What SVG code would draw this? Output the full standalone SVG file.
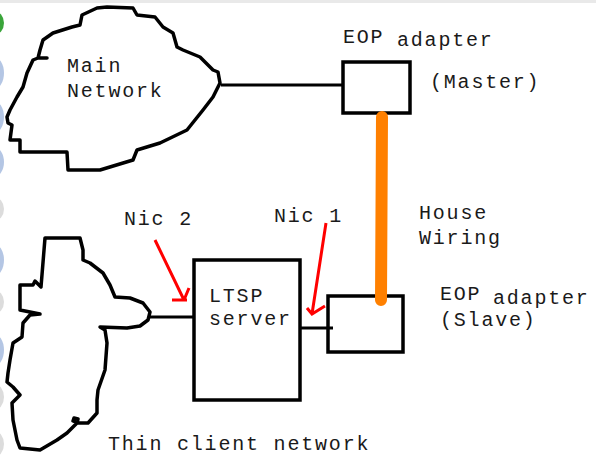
<svg xmlns="http://www.w3.org/2000/svg" width="596" height="465" viewBox="0 0 596 465">
<style>
.cloud{fill:none;stroke:#000;stroke-width:3.5;stroke-linejoin:round;stroke-linecap:round}
.box{fill:#fff;stroke:#000;stroke-width:3.5}
.wire{fill:none;stroke:#000;stroke-width:3}
.red{fill:none;stroke:#ff0000;stroke-width:3;stroke-linecap:butt}
.t{font-family:"Liberation Mono","Courier New",monospace;font-size:20px;letter-spacing:1.8px;fill:#1a1a1a}
</style>
<rect x="0" y="0" width="596" height="465" fill="#fff"/>
<rect x="0" y="0" width="596" height="3" fill="#e9e9e9"/>
<g id="edge-marks">
<ellipse cx="-6" cy="23" rx="10" ry="12" fill="#3aa53a"/>
<ellipse cx="-6" cy="73" rx="10" ry="16" fill="#b4c6e4"/>
<ellipse cx="-6" cy="117" rx="10" ry="16" fill="#b4c6e4"/>
<ellipse cx="-6" cy="162" rx="10" ry="15" fill="#b4c6e4"/>
<ellipse cx="-6" cy="209" rx="10" ry="12" fill="#dcdcdc"/>
<ellipse cx="-6" cy="260" rx="10" ry="16" fill="#b4c6e4"/>
<ellipse cx="-6" cy="302" rx="10" ry="12" fill="#dcdcdc"/>
<ellipse cx="-6" cy="350" rx="10" ry="16" fill="#b4c6e4"/>
<ellipse cx="-6" cy="397" rx="10" ry="13" fill="#dcdcdc"/>
<ellipse cx="-6" cy="444" rx="10" ry="13" fill="#dcdcdc"/>
</g>
<g id="main-network">
<path class="cloud" d="M47,58 L38,58 L40,50 L43,40 L53,33 L72,27 L80,25 L82,15 L97,8 L107,7 L133,8 L137,15 L155,17 L163,27 L173,33 L177,47 L183,50 L200,57 L213,70 L218,72 L220,83 L213,97 L203,110 L187,130 L160,143 L137,150 L133,160 L100,170 L68,170 L67,152 L20,152 L20,140 L10,140 L12,125 L8,123 L7,117 L10,110 L17,97 L23,87 L27,73 L33,60 L38,58"/>
<text class="t" x="67" y="72">Main</text>
<text class="t" x="67" y="97">Network</text>
</g>
<g id="thin-client-network">
<path class="cloud" d="M45,238 L80,238 L83,250 L83,260 L90,263 L103,273 L110,285 L115,297 L130,298 L143,303 L150,312 L148,320 L140,326 L127,328 L100,327 L105,330 L107,343 L105,370 L98,390 L97,400 L97,413 L88,423 L78,423 L73,421 L74,418 L78,419 L77,423 L67,433 L57,440 L40,450 L20,448 L17,440 L13,420 L12,403 L20,395 L13,387 L7,382 L8,373 L10,360 L13,343 L22,337 L23,323 L30,315 L40,314 L20,310 L20,285 L33,285 L35,281 L41,287 Z"/>
<text class="t" x="108" y="450">Thin client network</text>
</g>
<g id="ltsp-server">
<rect class="box" x="194" y="260" width="106" height="140"/>
<text class="t" x="209" y="302">LTSP</text>
<text class="t" x="209" y="325">server</text>
</g>
<g id="eop-master">
<rect class="box" x="343" y="62" width="67" height="51"/>
<text class="t" x="343" y="43">EOP</text>
<text class="t" x="397" y="46">adapter</text>
<text class="t" x="430" y="88">(Master)</text>
</g>
<g id="eop-slave">
<rect class="box" x="328" y="296" width="75" height="56"/>
<text class="t" x="440" y="300">EOP</text>
<text class="t" x="493" y="304">adapter</text>
<text class="t" x="440" y="326">(Slave)</text>
</g>
<g id="house-wiring">
<text class="t" x="419" y="219">House</text>
<text class="t" x="419" y="244">Wiring</text>
</g>
<g id="connectors">
<line class="wire" x1="221" y1="85" x2="343" y2="85"/>
<line class="wire" x1="150" y1="317" x2="194" y2="317"/>
<line class="wire" x1="300" y1="328" x2="333" y2="328"/>
<line x1="382" y1="117" x2="381" y2="300" stroke="#ff8000" stroke-width="12" stroke-linecap="round"/>
</g>
<g id="nic2">
<text class="t" x="124" y="225">Nic 2</text>
<path class="red" d="M155,240 L184,300 M172,300 L187,300 M184,300 L189,288"/>
</g>
<g id="nic1">
<text class="t" x="274" y="222">Nic 1</text>
<path class="red" d="M326,223 L312,314 M307,308 L312,314 L325,306"/>
</g>
</svg>
